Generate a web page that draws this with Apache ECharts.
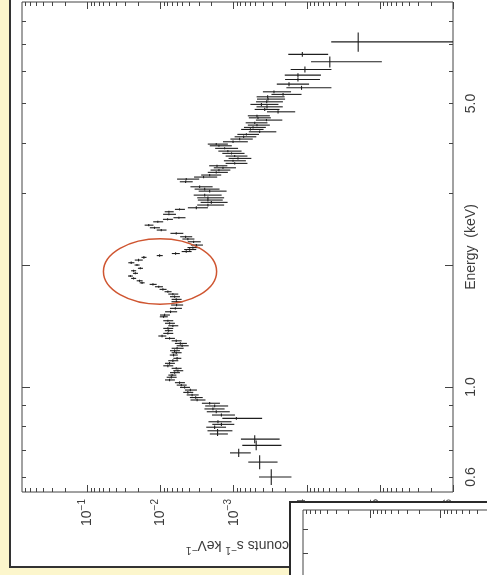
<!DOCTYPE html>
<html><head><meta charset="utf-8">
<script src="https://cdn.jsdelivr.net/npm/echarts@6/dist/echarts.min.js"></script>
<style>html,body{margin:0;padding:0;background:#fcf6cc;}#c{width:487px;height:575px;}</style>
</head><body><div id="c"></div>
<script>
// Energy (keV) bin centres
const energy = [0.600,0.653,0.688,0.718,0.744,0.766,0.780,0.796,0.809,0.821,
0.837,0.853,0.869,0.883,0.898,0.912,0.929,0.942,0.956,0.970,
0.983,0.998,1.011,1.025,1.041,1.057,1.070,1.085,1.097,1.112,
1.128,1.144,1.161,1.177,1.199,1.215,1.229,1.246,1.264,1.281,
1.300,1.318,1.336,1.356,1.377,1.395,1.416,1.436,1.457,1.490,
1.505,1.533,1.563,1.593,1.623,1.645,1.670,1.695,1.718,1.741,
1.767,1.791,1.807,1.828,1.853,1.878,1.907,1.935,1.962,1.999,
2.025,2.056,2.088,2.109,2.134,2.158,2.183,2.207,2.239,2.281,
2.317,2.347,2.393,2.438,2.470,2.507,2.555,2.591,2.615,2.666,
2.705,2.742,2.767,2.810,2.853,2.891,2.928,2.973,3.041,3.076,
3.117,3.207,3.256,3.294,3.332,3.383,3.427,3.472,3.512,3.560,
3.613,3.662,3.711,3.768,3.817,3.877,3.934,3.972,4.025,4.087,
4.140,4.197,4.259,4.317,4.367,4.424,4.482,4.552,4.611,4.664,
4.771,4.836,4.908,4.976,5.050,5.128,5.195,5.267,5.345,5.468,
5.583,5.734,5.876,6.069,6.338,6.609,7.098];
// Energy bin half widths (keV)
const energyHalfWidth = [0.027,0.026,0.016,0.020,0.017,0.009,0.0075,0.0077,0.007,0.007,
0.007,0.007,0.007,0.007,0.007,0.007,0.007,0.007,0.007,0.007,
0.007,0.007,0.007,0.007,0.007,0.007,0.007,0.007,0.007,0.007,
0.009,0.009,0.009,0.009,0.009,0.009,0.009,0.009,0.009,0.009,
0.009,0.009,0.009,0.009,0.009,0.009,0.009,0.009,0.009,0.009,
0.011,0.011,0.011,0.011,0.011,0.011,0.011,0.011,0.011,0.011,
0.011,0.011,0.011,0.011,0.011,0.011,0.011,0.011,0.011,0.011,
0.015,0.015,0.015,0.015,0.015,0.015,0.015,0.015,0.015,0.015,
0.015,0.015,0.015,0.015,0.015,0.015,0.015,0.015,0.015,0.015,
0.015,0.015,0.022,0.022,0.022,0.022,0.022,0.022,0.022,0.022,
0.022,0.022,0.022,0.022,0.022,0.022,0.022,0.022,0.022,0.022,
0.022,0.022,0.022,0.022,0.022,0.022,0.022,0.022,0.029,0.029,
0.029,0.029,0.029,0.029,0.029,0.029,0.029,0.029,0.029,0.029,
0.043,0.043,0.043,0.043,0.043,0.043,0.043,0.043,0.043,0.062,
0.063,0.065,0.067,0.103,0.198,0.09,0.39];
// Count rate (counts s^-1 keV^-1)
const rate = [3.06e-4,4.41e-4,8.53e-4,4.92e-4,5.15e-4,1.66e-3,1.66e-3,1.82e-3,1.47e-3,1.64e-3,
9.18e-4,1.47e-3,1.73e-3,1.92e-3,1.82e-3,2.13e-3,3.16e-3,3.31e-3,3.70e-3,4.23e-3,
3.91e-3,4.69e-3,5.20e-3,5.50e-3,7.53e-3,7.13e-3,6.95e-3,6.43e-3,5.79e-3,6.10e-3,
7.94e-3,7.53e-3,6.78e-3,5.94e-3,6.64e-3,6.10e-3,6.43e-3,5.94e-3,5.07e-3,5.36e-3,
6.10e-3,7.53e-3,9.53e-3,7.94e-3,7.76e-3,7.94e-3,6.78e-3,7.53e-3,7.94e-3,9.10e-3,
8.81e-3,7.30e-3,6.27e-3,6.04e-3,6.04e-3,6.10e-3,6.43e-3,6.78e-3,7.94e-3,9.29e-3,
1.06e-2,1.27e-2,1.79e-2,1.94e-2,2.34e-2,2.59e-2,2.21e-2,2.34e-2,1.89e-2,2.10e-2,
2.52e-2,2.00e-2,1.69e-2,1.03e-2,6.23e-3,4.45e-3,4.00e-3,3.61e-3,3.24e-3,3.53e-3,
4.23e-3,4.54e-3,6.10e-3,9.78e-3,1.21e-2,1.45e-2,1.09e-2,8.02e-3,5.61e-3,7.69e-3,
7.69e-3,5.50e-3,3.24e-3,2.25e-3,2.02e-3,2.25e-3,2.25e-3,2.49e-3,2.13e-3,2.49e-3,
2.92e-3,4.54e-3,4.45e-3,2.58e-3,2.13e-3,1.73e-3,1.59e-3,1.40e-3,1.69e-3,9.68e-4,
1.02e-3,8.73e-4,9.68e-4,1.07e-3,1.20e-3,1.33e-3,1.59e-3,1.73e-3,1.02e-3,8.28e-4,
7.30e-4,6.70e-4,4.41e-4,5.90e-4,5.43e-4,4.80e-4,5.15e-4,3.56e-4,4.65e-4,4.80e-4,
2.47e-4,3.76e-4,3.50e-4,4.17e-4,3.53e-4,3.39e-4,3.43e-4,2.11e-4,2.81e-4,1.18e-4,
1.75e-4,1.32e-4,1.32e-4,1.06e-4,4.84e-5,1.15e-4,1.98e-5];
// 1-sigma errors on rate
const rateErr = [1.44e-4,1.9e-4,2.7e-4,2.7e-4,2.8e-4,4.6e-4,6.2e-4,5.5e-4,4.9e-4,5.7e-4,
5.1e-4,5.1e-4,6.0e-4,5.9e-4,6.3e-4,5.9e-4,7.3e-4,6.6e-4,6.9e-4,6.6e-4,
7.3e-4,7.3e-4,8.1e-4,8.6e-4,1.17e-3,1.11e-3,8.7e-4,1.0e-3,9.0e-4,9.5e-4,
1.24e-3,1.17e-3,1.06e-3,7.4e-4,8.3e-4,9.5e-4,1.0e-3,1.11e-3,9.5e-4,1.0e-3,
9.5e-4,1.17e-3,1.19e-3,1.24e-3,9.7e-4,1.24e-3,1.06e-3,1.17e-3,1.24e-3,1.14e-3,
1.37e-3,1.37e-3,1.17e-3,1.13e-3,1.04e-3,9.5e-4,1.0e-3,1.06e-3,8.7e-4,1.02e-3,
1.33e-3,1.4e-3,1.4e-3,1.8e-3,1.85e-3,2.0e-3,1.75e-3,1.85e-3,1.5e-3,1.66e-3,
2.4e-3,2.5e-3,1.34e-3,9.7e-4,7.8e-4,6.9e-4,7.5e-4,6.7e-4,6.1e-4,7.1e-4,
7.9e-4,8.5e-4,1.22e-3,1.5e-3,1.9e-3,2.0e-3,1.7e-3,1.25e-3,1.05e-3,1.54e-3,
1.08e-3,8.6e-4,9.9e-4,9.0e-4,8.1e-4,8.4e-4,9.0e-4,1.03e-3,8.8e-4,9.3e-4,
9.8e-4,9.1e-4,1.49e-3,9.0e-4,6.5e-4,5.3e-4,4.8e-4,4.7e-4,4.7e-4,3.2e-4,
3.4e-4,3.0e-4,3.2e-4,3.6e-4,4.2e-4,4.6e-4,5.3e-4,5.3e-4,3.8e-4,2.8e-4,
2.4e-4,2.2e-4,1.8e-4,2.0e-4,1.8e-4,1.6e-4,1.7e-4,1.4e-4,1.55e-4,1.6e-4,
1.03e-4,1.4e-4,1.37e-4,1.73e-4,1.41e-4,1.41e-4,1.42e-4,9.3e-5,1.17e-4,7.2e-5,
8.2e-5,6.6e-5,6.8e-5,6.0e-5,3.9e-5,6.4e-5,2.65e-5];

// Axis ranges and ticks
const rateRange = [1e-6, 0.785];
const energyRange = [0.551, 8.9];
const rateMajorTicks = [1e-1, 1e-2, 1e-3, 1e-4, 1e-5, 1e-6];
const rateMinorMantissas = [2, 3, 4, 5, 6, 7, 8, 9];
const energyLabelTicks = [0.6, 1.0, 5.0];
const energyMajorTicks = [1, 2];
const energyMinorTicks = [0.6, 0.7, 0.8, 0.9, 3, 4, 5, 6, 7, 8];
// circled feature (annotation), data units
const circleEnergy = [1.60, 2.32];
const circleRate = [0.0604, 0.00171];
// inset panel axes (partly visible)
const insetRateRange = [1.95e-6, 0.887];
const insetRateMajor = [1e-1, 1e-2, 1e-3];
const insetEnergyRange = [2.87, 8.93];
const insetEnergyTicks = [6, 7, 8];

const L = Math.log10;
const F = 'Liberation Sans, Arial, sans-serif';
const TC = '#3c3c3c';
const LC = '#444';

function minorRate(range) {
  const out = [];
  for (let d = -7; d <= 0; d++) {
    rateMinorMantissas.forEach(m => {
      const v = m * Math.pow(10, d);
      if (v > range[0] && v < range[1]) out.push(L(v));
    });
  }
  return out;
}

const data = energy.map((e, i) => {
  const c = rate[i], s = rateErr[i], de = energyHalfWidth[i];
  const lo = c - s > rateRange[0] ? L(c - s) : L(rateRange[0]);
  return [L(c), L(e), lo, L(c + s), L(e - de), L(e + de)];
});

const noLine = {show: false, onZero: false};
const xBase = {type: 'value', gridIndex: 0, min: L(rateRange[0]), max: L(rateRange[1]), inverse: true,
  splitLine: {show: false}, axisLine: noLine, nameMoveOverlap: false};
const yBase = {type: 'value', gridIndex: 0, min: L(energyRange[0]), max: L(energyRange[1]),
  splitLine: {show: false}, axisLine: noLine, nameMoveOverlap: false};
const noLabel = {show: false};
function tick(len, vals) { return {show: true, inside: true, length: len, customValues: vals, lineStyle: {color: LC, width: 1}}; }

const richSup = {
  n: {fontSize: 14, fontFamily: F, color: TC, lineHeight: 20},
  e: {fontSize: 10, fontFamily: F, color: TC, verticalAlign: 'top', lineHeight: 12},
  t: {fontSize: 14, fontFamily: F, color: TC, lineHeight: 20}
};

const chart = echarts.init(document.getElementById('c'));
chart.setOption({
  animation: false,
  backgroundColor: '#fcf6cc',
  grid: [
    {left: 22, top: 2, width: 431, height: 490, show: true, borderColor: LC, borderWidth: 1, backgroundColor: 'transparent', outerBoundsMode: 'none', containLabel: false},
    {left: 303, top: 510, width: 400, height: 200, show: true, borderColor: LC, borderWidth: 1, backgroundColor: '#fff', z: 10, outerBoundsMode: 'none', containLabel: false}
  ],
  xAxis: [
    Object.assign({}, xBase, {position: 'bottom', axisTick: tick(7, rateMajorTicks.map(L)),
      axisLabel: {show: true, customValues: rateMajorTicks.map(L), rotate: 90, margin: 7,
        formatter: v => '{n|10}{e|\u2212' + Math.round(-v) + '}', rich: richSup},
      name: '{t|counts s}{e|\u22121}{t| keV}{e|\u22121}', nameLocation: 'middle', nameRotate: 180, nameGap: 43,
      nameTextStyle: {rich: richSup}}),
    Object.assign({}, xBase, {position: 'bottom', axisTick: tick(4, minorRate(rateRange)), axisLabel: noLabel}),
    Object.assign({}, xBase, {position: 'top', axisTick: tick(7, rateMajorTicks.map(L)), axisLabel: noLabel}),
    Object.assign({}, xBase, {position: 'top', axisTick: tick(4, minorRate(rateRange)), axisLabel: noLabel}),
    {type: 'value', gridIndex: 1, position: 'top', min: L(insetRateRange[0]), max: L(insetRateRange[1]), inverse: true, z: 11,
      splitLine: {show: false}, axisLine: noLine, axisTick: tick(8, insetRateMajor.map(L)), axisLabel: noLabel},
    {type: 'value', gridIndex: 1, position: 'top', min: L(insetRateRange[0]), max: L(insetRateRange[1]), inverse: true, z: 11,
      splitLine: {show: false}, axisLine: noLine, axisTick: tick(4, minorRate(insetRateRange)), axisLabel: noLabel}
  ],
  yAxis: [
    Object.assign({}, yBase, {position: 'right', axisTick: tick(8, energyMajorTicks.map(L)),
      axisLabel: {show: true, customValues: energyLabelTicks.map(L), rotate: 90, margin: 11,
        formatter: v => Math.pow(10, v).toFixed(1), fontSize: 14, fontFamily: F, color: TC},
      name: 'Energy  (keV)', nameLocation: 'middle', nameRotate: 90, nameGap: 11,
      nameTextStyle: {fontSize: 14, fontFamily: F, color: TC}}),
    Object.assign({}, yBase, {position: 'right', axisTick: tick(4, energyMinorTicks.map(L)), axisLabel: noLabel}),
    Object.assign({}, yBase, {position: 'left', axisTick: tick(8, energyMajorTicks.map(L)), axisLabel: noLabel}),
    Object.assign({}, yBase, {position: 'left', axisTick: tick(4, energyMinorTicks.map(L)), axisLabel: noLabel}),
    {type: 'value', gridIndex: 1, position: 'left', min: L(insetEnergyRange[0]), max: L(insetEnergyRange[1]), z: 11,
      splitLine: {show: false}, axisLine: noLine, axisTick: tick(5, insetEnergyTicks.map(L)), axisLabel: noLabel}
  ],
  series: [{
    type: 'custom', xAxisIndex: 0, yAxisIndex: 0, clip: true, silent: true, z: 2,
    encode: {x: 0, y: 1},
    data: data,
    renderItem: function (params, api) {
      const c = api.value(0), e = api.value(1);
      const h1 = api.coord([api.value(2), e]), h2 = api.coord([api.value(3), e]);
      const v1 = api.coord([c, api.value(4)]), v2 = api.coord([c, api.value(5)]);
      const st = {stroke: '#1e1e1e', lineWidth: 1.1};
      return {type: 'group', children: [
        {type: 'line', shape: {x1: h1[0], y1: h1[1], x2: h2[0], y2: h2[1]}, style: st},
        {type: 'line', shape: {x1: v1[0], y1: v1[1], x2: v2[0], y2: v2[1]}, style: st}
      ]};
    }
  }]
});

const p1 = chart.convertToPixel({xAxisIndex: 0, yAxisIndex: 0}, [L(circleRate[0]), L(circleEnergy[0])]);
const p2 = chart.convertToPixel({xAxisIndex: 0, yAxisIndex: 0}, [L(circleRate[1]), L(circleEnergy[1])]);
chart.setOption({
  graphic: [
    {type: 'rect', z: -1, shape: {x: 10, y: -20, width: 600, height: 587}, style: {fill: '#fff', stroke: '#333', lineWidth: 2}},
    {type: 'rect', z: 5, shape: {x: 290, y: 502, width: 300, height: 100}, style: {fill: '#fff', stroke: '#2a2a2a', lineWidth: 2}},
    {type: 'ellipse', z: 6, shape: {cx: (p1[0] + p2[0]) / 2, cy: (p1[1] + p2[1]) / 2,
      rx: Math.abs(p2[0] - p1[0]) / 2, ry: Math.abs(p2[1] - p1[1]) / 2},
      style: {fill: 'none', stroke: '#cf5530', lineWidth: 1.5}}
  ]
});
</script></body></html>
